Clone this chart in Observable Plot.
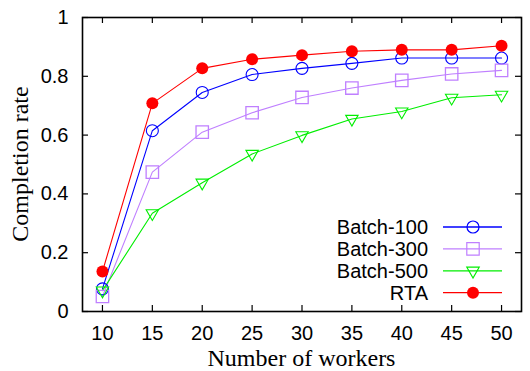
<!DOCTYPE html>
<html>
<head>
<meta charset="utf-8">
<script src="https://cdn.jsdelivr.net/npm/d3@7"></script>
<script src="https://cdn.jsdelivr.net/npm/@observablehq/plot@0.6"></script>
<style>
  html, body { margin: 0; padding: 0; background: #fff; }
  svg { display: block; }
</style>
</head>
<body>
<div id="chart"></div>
<script>
const workers = [10, 15, 20, 25, 30, 35, 40, 45, 50];
const batch100 = [0.077, 0.615, 0.745, 0.806, 0.827, 0.844, 0.862, 0.862, 0.862];
const batch300 = [0.051, 0.474, 0.610, 0.676, 0.728, 0.760, 0.786, 0.808, 0.820];
const batch500 = [0.071, 0.334, 0.438, 0.536, 0.599, 0.655, 0.680, 0.727, 0.737];
const rta      = [0.136, 0.708, 0.827, 0.858, 0.872, 0.885, 0.890, 0.890, 0.904];
const seriesNames = ["Batch-100", "Batch-300", "Batch-500", "RTA"];
const xTicks = [10, 15, 20, 25, 30, 35, 40, 45, 50];
const yTicks = [0, 0.2, 0.4, 0.6, 0.8, 1];

const colors = {"Batch-100": "#0000ff", "Batch-300": "#bf7fff", "Batch-500": "#00ee00", "RTA": "#ff0000"};
const seriesVals = [batch100, batch300, batch500, rta];
const rows = [];
seriesNames.forEach((s, i) => workers.forEach((w, j) => rows.push({series: s, workers: w, value: seriesVals[i][j]})));
const bySeries = s => rows.filter(d => d.series === s);

const W = 530, H = 371;
const mL = 82, mR = 9, mT = 17, mB = 60;
const sans = "'Liberation Sans', Arial, Helvetica, sans-serif";
const serif = "'Liberation Serif', 'Times New Roman', serif";
const R = {"Batch-100": 6, "Batch-300": 7, "Batch-500": 4.6, "RTA": 6};

const chart = Plot.plot({
  width: W, height: H,
  marginLeft: mL, marginRight: mR, marginTop: mT, marginBottom: mB,
  style: {fontFamily: sans, fontSize: "20px", background: "#fff", color: "#000"},
  x: {domain: [8, 52]},
  y: {domain: [0, 1]},
  marks: [
    Plot.axisX({ticks: xTicks, tickSize: 0, tickPadding: 14, label: null, fontSize: 20, tickFormat: d => String(d)}),
    Plot.axisY({ticks: yTicks, tickSize: 0, tickPadding: 14, label: null, fontSize: 20, tickFormat: d => String(d)}),
    Plot.tickX(xTicks, {x: d => d, stroke: "#000", strokeWidth: 1.2, insetTop: 288}),
    Plot.tickX(xTicks, {x: d => d, stroke: "#000", strokeWidth: 1.2, insetBottom: 288}),
    Plot.tickY(yTicks, {y: d => d, stroke: "#000", strokeWidth: 1.2, insetRight: 433}),
    Plot.tickY(yTicks, {y: d => d, stroke: "#000", strokeWidth: 1.2, insetLeft: 433}),
    ...seriesNames.map(s =>
      Plot.line(bySeries(s), {x: "workers", y: "value", stroke: colors[s], strokeWidth: 1.1})),
    Plot.dot(bySeries("Batch-100"), {x: "workers", y: "value", r: R["Batch-100"], stroke: colors["Batch-100"], strokeWidth: 1.1, fill: "none"}),
    Plot.dot(bySeries("Batch-300"), {x: "workers", y: "value", symbol: "square", r: R["Batch-300"], stroke: colors["Batch-300"], strokeWidth: 1.3, fill: "none"}),
    Plot.dot(bySeries("Batch-500"), {x: "workers", y: "value", symbol: "triangle", r: R["Batch-500"], rotate: 180, stroke: colors["Batch-500"], strokeWidth: 1.1, fill: "none"}),
    Plot.dot(bySeries("RTA"), {x: "workers", y: "value", r: R["RTA"], fill: colors["RTA"], stroke: "none"}),
    Plot.frame({stroke: "#000", strokeWidth: 1.6})
  ]
});

const svg = d3.select(chart);
// Axis titles
svg.append("text")
  .attr("x", mL + (W - mL - mR) / 2).attr("y", 366)
  .attr("text-anchor", "middle")
  .style("font-family", serif).style("font-size", "24px").attr("fill", "#000")
  .text("Number of workers");
svg.append("text")
  .attr("transform", `translate(28, ${mT + (H - mT - mB) / 2}) rotate(-90)`)
  .attr("text-anchor", "middle")
  .style("font-family", serif).style("font-size", "24px").attr("fill", "#000")
  .text("Completion rate");

// Legend
const lg = svg.append("g");
const legendSymbols = {"Batch-100": d3.symbolCircle, "Batch-300": d3.symbolSquare, "Batch-500": d3.symbolTriangle, "RTA": d3.symbolCircle};
seriesNames.forEach((s, i) => {
  const y = 227 + i * 21.9;
  lg.append("text").attr("x", 428).attr("y", y).attr("dy", "0.35em")
    .attr("text-anchor", "end").style("font-family", sans).style("font-size", "20px").attr("fill", "#000").text(s);
  lg.append("line").attr("x1", 443).attr("x2", 502).attr("y1", y).attr("y2", y)
    .attr("stroke", colors[s]).attr("stroke-width", 1.3);
  const p = d3.symbol(legendSymbols[s], Math.PI * R[s] * R[s])();
  const g = lg.append("path").attr("d", p)
    .attr("transform", `translate(473, ${y})` + (s === "Batch-500" ? " rotate(180)" : ""));
  if (s === "RTA") g.attr("fill", colors[s]).attr("stroke", "none");
  else g.attr("fill", "none").attr("stroke", colors[s]).attr("stroke-width", 1.2);
});

document.getElementById("chart").appendChild(chart);
</script>
</body>
</html>
